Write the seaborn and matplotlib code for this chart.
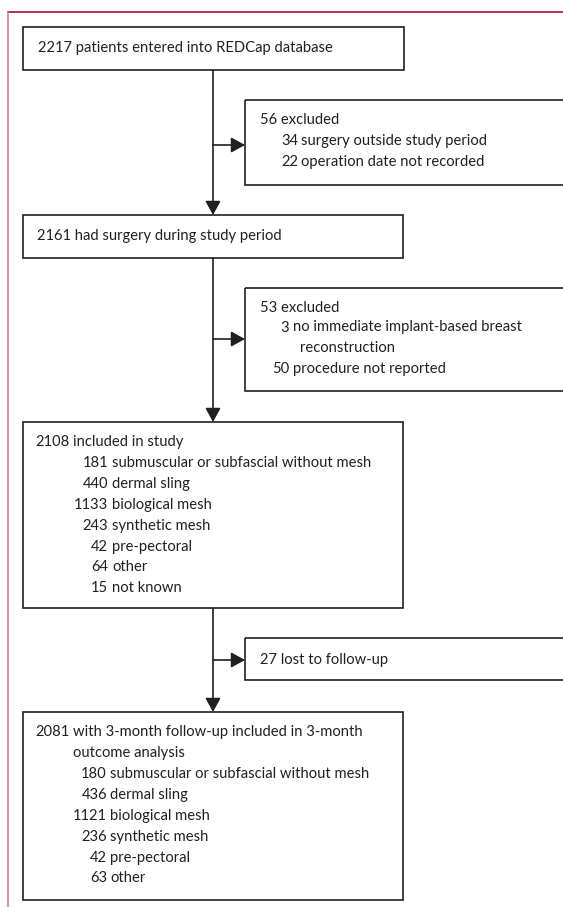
import matplotlib
matplotlib.use("Agg")
import matplotlib.pyplot as plt
from matplotlib.patches import Rectangle
import seaborn as sns

# ------------------------------------------------------------------
# Flow numbers
# ------------------------------------------------------------------
n_entered = 2217
n_had_surgery = 2161
n_included = 2108
n_followup = 2081
n_lost = 27

excluded_1_total = 56
excluded_1_counts = [34, 22]
excluded_1_labels = ["surgery outside study period", "operation date not recorded"]

excluded_2_total = 53
excluded_2_counts = [3, 50]
excluded_2_labels = ["no immediate implant-based breast\nreconstruction", "procedure not reported"]

included_counts = [181, 440, 1133, 243, 42, 64, 15]
included_labels = ["submuscular or subfascial without mesh", "dermal sling", "biological mesh",
                   "synthetic mesh", "pre-pectoral", "other", "not known"]

followup_counts = [180, 436, 1121, 236, 42, 63]
followup_labels = ["submuscular or subfascial without mesh", "dermal sling", "biological mesh",
                   "synthetic mesh", "pre-pectoral", "other"]

sns.set_theme(style="white")
plt.rcParams["font.family"] = ["Lato", "DejaVu Sans"]

FS = 10.6
LINE = "#231f20"
STEP = 20.9

fig = plt.figure(figsize=(5.63, 9.07), dpi=100)
ax = fig.add_axes([0, 0, 1, 1])
ax.set_xlim(0, 563)
ax.set_ylim(907, 0)
ax.axis("off")


def box(x0, y0, x1, y1):
    ax.add_patch(Rectangle((x0, y0), x1 - x0, y1 - y0, fill=False,
                           edgecolor=LINE, lw=1.2, clip_on=True))


def txt(x, y, s, ha="left"):
    ax.text(x, y, s, ha=ha, va="center", fontsize=FS, color=LINE)


def arrow(x0, y0, x1, y1):
    ax.annotate("", xy=(x1, y1), xytext=(x0, y0),
                arrowprops=dict(arrowstyle="-|>,head_length=0.6,head_width=0.33",
                                mutation_scale=14, lw=1.2, color=LINE,
                                shrinkA=0, shrinkB=0))


def listing(y0, num_x, lab_x, counts, labels, wrap_indent=7):
    # one row per count; wrapped labels continue on the next row, indented a bit
    y = y0
    for c, lab in zip(counts, labels):
        txt(num_x, y, str(c), ha="right")
        for j, part in enumerate(lab.split("\n")):
            txt(lab_x + (wrap_indent if j else 0), y, part)
            y += STEP


# red margin rules
ax.plot([8, 563], [11.5, 11.5], color="#b3203f", lw=1.3)
ax.plot([8, 8], [11.5, 907], color="#de6f88", lw=1.1)

# main column
MX = 213
box(23, 27, 404, 70)
txt(38, 48, f"{n_entered} patients entered into REDCap database")

arrow(MX, 70, MX, 215)
arrow(MX, 145, 245, 145)
box(245, 100, 575, 185)
txt(260, 120, f"{excluded_1_total} excluded")
listing(141, 298, 301, excluded_1_counts, excluded_1_labels)

box(23, 215, 403, 258)
txt(37, 236, f"{n_had_surgery} had surgery during study period")

arrow(MX, 258, MX, 422)
arrow(MX, 339, 245, 339)
box(245, 288, 575, 391)
txt(260, 308, f"{excluded_2_total} excluded")
listing(327.5, 289, 293, excluded_2_counts, excluded_2_labels)

box(23, 422, 403, 608)
txt(70, 442, str(n_included), ha="right")
txt(73, 442, "included in study")
listing(463, 108, 112, included_counts, included_labels)

arrow(MX, 608, MX, 712)
arrow(MX, 660, 245, 660)
box(245, 638, 575, 680)
txt(260, 660, f"{n_lost} lost to follow-up")

box(23, 712, 403, 900)
txt(70, 732, str(n_followup), ha="right")
txt(73, 732, "with 3-month follow-up included in 3-month")
txt(73, 753, "outcome analysis")
listing(774, 107, 110, followup_counts, followup_labels)

fig.savefig("out.png", dpi=100, facecolor="white")
